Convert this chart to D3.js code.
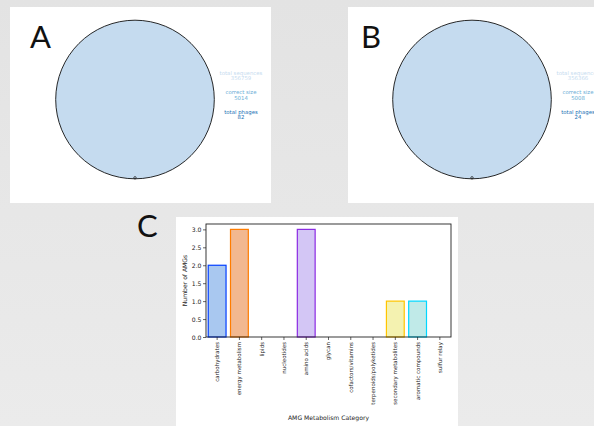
<!DOCTYPE html>
<html>
<head>
<meta charset="utf-8">
<script src="https://cdnjs.cloudflare.com/ajax/libs/d3/7.8.5/d3.min.js"></script>
<style>
  body { margin: 0; background: linear-gradient(#e3e3e3, #ebebeb); }
  svg { display: block; }
  .tick text { font-family: "DejaVu Sans", sans-serif; }
</style>
</head>
<body>
<svg id="fig" width="594" height="426"></svg>
<script>
// panel A / B summary numbers
var statLabels = ['total sequences', 'correct size', 'total phages'];
var statColors = ['#c6dbef', '#6baed6', '#2171b5'];
var statsA = [356759, 5014, 82];
var statsB = [356366, 5008, 24];

// panel C
var categories = ['carbohydrates', 'energy metabolism', 'lipids', 'nucleotides', 'amino acids',
  'glycan', 'cofactors/vitamins', 'terpenoids/polyketides', 'secondary metabolites',
  'aromatic compounds', 'sulfur relay'];
var amgCounts = [2, 3, 0, 0, 3, 0, 0, 0, 1, 1, 0];
var yTicks = [0, 0.5, 1, 1.5, 2, 2.5, 3];
var edgeColors = ['#023eff', '#ff7c00', '#1ac938', '#e8000b', '#8b2be2', '#9f4800',
  '#f14cc1', '#a3a3a3', '#ffc400', '#00d7ff', '#023eff'];
var fillColors = ['#a9c8f0', '#f2b890', '#9ee0ae', '#f6aaa6', '#d3c6f5', '#dcc0a4',
  '#f4b8e0', '#d2d2d2', '#f4f2b0', '#c0eae8', '#a9c8f0'];

var svg = d3.select('#fig');

// white panels
svg.append('rect').attr('x', 10).attr('y', 7).attr('width', 261).attr('height', 196).attr('fill', '#fff');
svg.append('rect').attr('x', 348).attr('y', 7).attr('width', 246).attr('height', 196).attr('fill', '#fff');
svg.append('rect').attr('x', 176).attr('y', 217).attr('width', 282).attr('height', 209).attr('fill', '#fff');

// panel letters
var letters = [['A', 30, 48], ['B', 361, 48], ['C', 137, 237]];
svg.selectAll('text.letter').data(letters).enter().append('text')
  .attr('class', 'letter')
  .attr('x', d => d[1]).attr('y', d => d[2])
  .attr('font-family', 'Lato, sans-serif')
  .attr('font-size', 31)
  .attr('fill', '#111')
  .text(d => d[0]);

function venn(cx, stats) {
  var g = svg.append('g');
  g.append('circle').attr('cx', cx).attr('cy', 99.5).attr('r', 79.3)
    .attr('fill', '#c5dbef').attr('stroke', '#111').attr('stroke-width', 0.9);
  g.append('circle').attr('cx', cx).attr('cy', 177.8).attr('r', 1.2)
    .attr('fill', 'none').attr('stroke', '#111').attr('stroke-width', 0.7);
  var tx = cx + 106;
  stats.forEach(function(v, i) {
    var t = g.append('text').attr('text-anchor', 'middle')
      .attr('font-family', 'DejaVu Sans, sans-serif').attr('font-size', 5.4)
      .attr('fill', statColors[i]);
    t.append('tspan').attr('x', tx).attr('y', 74.8 + i * 19.6).text(statLabels[i]);
    t.append('tspan').attr('x', tx).attr('y', 80.2 + i * 19.6).text(v);
  });
}
venn(135, statsA);
venn(472, statsB);

// bar chart
var pl = 206, pr = 451, pt = 224, pb = 337;
var x = d3.scaleBand().domain(categories).range([pl, pr]).paddingInner(0.2).paddingOuter(0.1);
var y = d3.scaleLinear().domain([0, 3.15]).range([pb, pt]);

var gc = svg.append('g');
gc.selectAll('rect.bar').data(categories).enter().append('rect')
  .attr('class', 'bar')
  .attr('x', d => x(d))
  .attr('width', x.bandwidth())
  .attr('y', (d, i) => y(amgCounts[i]))
  .attr('height', (d, i) => y(0) - y(amgCounts[i]))
  .attr('fill', (d, i) => fillColors[i])
  .attr('stroke', (d, i) => edgeColors[i])
  .attr('stroke-width', 1.2);

var yAxis = gc.append('g').attr('transform', 'translate(' + pl + ',0)')
  .call(d3.axisLeft(y).tickValues(yTicks).tickFormat(d3.format('.1f')).tickSizeOuter(0).tickSize(3));
var xAxis = gc.append('g').attr('transform', 'translate(0,' + pb + ')')
  .call(d3.axisBottom(x).tickSizeOuter(0).tickSize(3));

[yAxis, xAxis].forEach(function(a) {
  a.select('.domain').remove();
  a.selectAll('.tick line').attr('stroke', '#222').attr('stroke-width', 0.7);
  a.selectAll('.tick text').attr('font-size', 6.1).attr('fill', '#222');
});
yAxis.selectAll('.tick text').attr('x', -4.5).attr('dy', '0.34em');
xAxis.selectAll('.tick text')
  .attr('font-size', 5.5)
  .attr('transform', 'rotate(-90)')
  .attr('text-anchor', 'end')
  .attr('x', -5).attr('y', 0).attr('dy', '0.35em');

gc.append('rect').attr('x', pl).attr('y', pt).attr('width', pr - pl).attr('height', pb - pt)
  .attr('fill', 'none').attr('stroke', '#222').attr('stroke-width', 0.9);

gc.append('text').attr('transform', 'translate(187,' + ((pt + pb) / 2) + ') rotate(-90)')
  .attr('text-anchor', 'middle').attr('font-family', 'DejaVu Sans, sans-serif')
  .attr('font-size', 6.1).attr('fill', '#222').text('Number of AMGs');
gc.append('text').attr('x', (pl + pr) / 2).attr('y', 419.5)
  .attr('text-anchor', 'middle').attr('font-family', 'DejaVu Sans, sans-serif')
  .attr('font-size', 6.1).attr('fill', '#222').text('AMG Metabolism Category');
</script>
</body>
</html>
